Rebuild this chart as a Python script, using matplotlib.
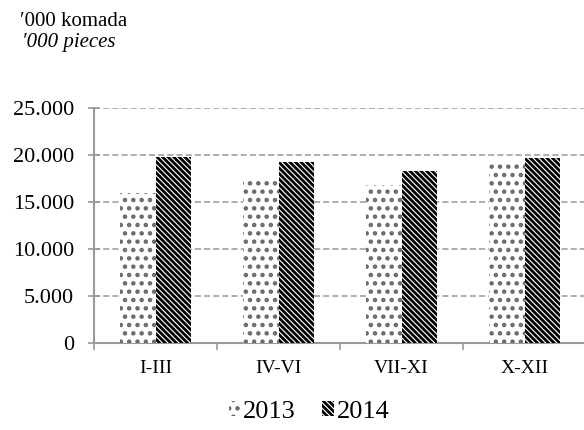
import matplotlib
matplotlib.use("Agg")
import matplotlib.pyplot as plt
import numpy as np
from matplotlib.ticker import FuncFormatter, FixedLocator

# data
categories = ["I-III", "IV-VI", "VII-XI", "X-XII"]
series_2013 = [16000, 17400, 16800, 19400]
series_2014 = [19800, 19300, 18300, 19650]
years = ["2013", "2014"]
y_ticks = [0, 5000, 10000, 15000, 20000, 25000]

plt.rcParams["font.family"] = ["Liberation Serif", "DejaVu Serif"]
plt.rcParams["hatch.linewidth"] = 2.0

fig = plt.figure(figsize=(5.84, 4.30), dpi=100)
ax = fig.add_axes([94 / 584, 87 / 430, 492 / 584, 235 / 430])

x = np.arange(len(categories))
w = 0.285
ax.bar(x - w / 2, series_2013, w, color="white", edgecolor="#6a6a6a",
       hatch="..", linewidth=0, label=years[0], zorder=3)
ax.bar(x + w / 2, series_2014, w, color="white", edgecolor="black",
       hatch="\\\\\\\\\\\\", linewidth=0, label=years[1], zorder=3)

ax.set_xlim(-0.5, len(categories) - 0.5)
ax.set_ylim(0, 25000)
ax.yaxis.set_major_locator(FixedLocator(y_ticks))
ax.yaxis.set_major_formatter(FuncFormatter(lambda v, p: f"{int(v):,}".replace(",", ".")))

ax.set_xticks(x)
ax.set_xticklabels(categories, fontsize=14)
ax.set_xticks(np.arange(-0.5, len(categories)), minor=True)
ax.tick_params(axis="x", which="major", length=0, pad=12)
ax.tick_params(axis="x", which="minor", length=5, width=1.2, color="#999999")
ax.tick_params(axis="y", labelsize=16, direction="inout", length=8.6, width=1.2,
               color="#999999", pad=10)

ax.grid(axis="y", linestyle=(0, (4, 2)), color="#999999", linewidth=1.1, zorder=0)
for side in ["top", "right"]:
    ax.spines[side].set_visible(False)
for side in ["left", "bottom"]:
    ax.spines[side].set_color("#999999")
    ax.spines[side].set_linewidth(1.5)

fig.text(20 / 584, 1 - 21 / 430, "\u2032000 komada", fontsize=15, va="center")
fig.text(22 / 584, 1 - 42 / 430, "\u2032000 pieces", fontsize=15, style="italic", va="center")

fig.legend(loc="center", bbox_to_anchor=(309 / 584, 1 - 412 / 430), ncol=2, frameon=False,
           fontsize=19, handlelength=0.45, handleheight=0.5, handletextpad=0.1,
           columnspacing=1.0)

fig.savefig("out.png", dpi=100)
